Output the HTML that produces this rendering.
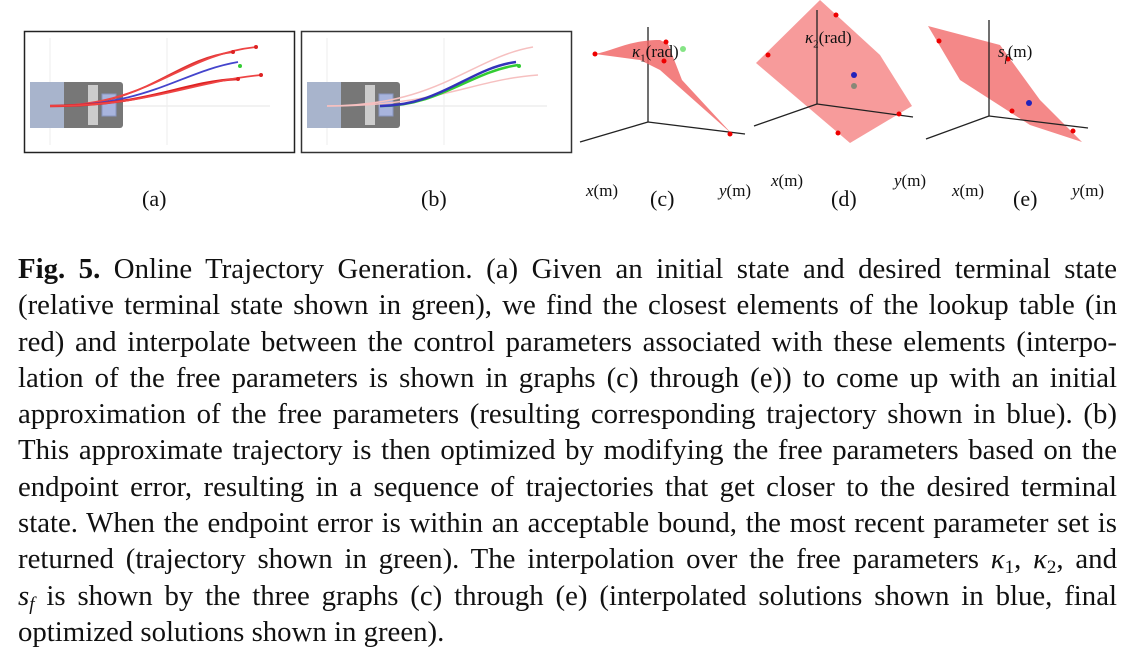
<!DOCTYPE html>
<html><head><meta charset="utf-8">
<style>
html,body{margin:0;padding:0;background:#fff;}
body{width:1131px;height:657px;position:relative;overflow:hidden;font-family:"Liberation Serif",serif;}
svg{position:absolute;left:0;top:0;}
.cap{position:absolute;left:18px;top:251px;width:1099px;font-size:28.8px;line-height:36.3px;color:#111;}
.cap div{text-align:justify;text-align-last:justify;white-space:nowrap;height:36.3px;}
.cap div.last{text-align-last:left;}
.s{font-size:19px;position:relative;top:5px;line-height:0;}
.lbl{position:absolute;font-size:19px;color:#111;}
.lbl sub{font-size:11px;line-height:0;}
.it{font-style:italic;}
</style></head><body>
<svg width="1131" height="240" viewBox="0 0 1131 240">
<defs>
<g id="car">
<rect x="30" y="82" width="93" height="46" fill="#777" rx="3"/>
<rect x="30" y="82" width="34" height="46" fill="#a8b4cc"/>
<rect x="88" y="85" width="10" height="40" fill="#ccc"/>
<rect x="102" y="94" width="14" height="22" fill="#a8b4dd" stroke="#8896c0"/>
<line x1="123" y1="106" x2="270" y2="106" stroke="#e6e6e6"/>
<line x1="50" y1="38" x2="50" y2="82" stroke="#eee"/>
<line x1="50" y1="128" x2="50" y2="145" stroke="#eee"/>
<line x1="167" y1="38" x2="167" y2="145" stroke="#eee"/>
</g>
</defs>
<rect x="24.5" y="31.5" width="270" height="121" fill="#fff" stroke="#222" stroke-width="1.5"/>
<use href="#car"/>
<g fill="none" stroke-width="1.8">
<path d="M50 106 C150 106 170 60 233 52" stroke="#d33"/>
<path d="M50 106 C150 106 180 55 256 47" stroke="#e44"/>
<path d="M50 106 C150 106 180 72 238 62" stroke="#44c"/>
<path d="M50 106 C150 106 180 82 238 79" stroke="#d22" stroke-width="2.5"/>
<path d="M50 106 C150 106 190 82 261 75" stroke="#e44"/>
</g>
<g fill="#d22"><circle cx="233" cy="52" r="2"/><circle cx="256" cy="47" r="2"/><circle cx="238" cy="79" r="2"/><circle cx="261" cy="75" r="2"/></g>
<circle cx="240" cy="66" r="2" fill="#3c3"/>

<rect x="301.5" y="31.5" width="270" height="121" fill="#fff" stroke="#333" stroke-width="1.5"/>
<use href="#car" transform="translate(277,0)"/>
<g fill="none">
<path d="M327 106 C440 106 470 58 533 47" stroke="#f6c0c0" stroke-width="1.5"/>
<path d="M327 106 C440 106 470 80 538 75" stroke="#f6c0c0" stroke-width="1.5"/>
<path d="M380 106 C440 106 470 72 518 65" stroke="#3c3" stroke-width="2.5"/>
<path d="M380 106 C440 106 470 68 516 62" stroke="#33b" stroke-width="2.5"/>
</g>
<circle cx="519" cy="66" r="2" fill="#3c3"/>

<!-- (c) -->
<g stroke="#222" stroke-width="1.3" fill="none">
<line x1="648" y1="27" x2="648" y2="122"/><line x1="648" y1="122" x2="580" y2="142"/><line x1="648" y1="122" x2="745" y2="134"/>
</g>
<path d="M595 54 C615 50 630 40 660 40 L668 44 L682 80 L732 134 L705 110 L660 70 L640 60 Z" fill="#f06060" opacity="0.8"/>
<g fill="#e00"><circle cx="595" cy="54" r="2.5"/><circle cx="666" cy="42" r="2.5"/><circle cx="664" cy="61" r="2.5"/><circle cx="730" cy="134" r="2.5"/></g>
<circle cx="683" cy="49" r="3" fill="#6d6" opacity="0.8"/>
<!-- (d) -->
<path d="M756 63 L820 0 L880 55 L912 106 L850 143 Z" fill="#f47a7a" opacity="0.75"/>
<g stroke="#222" stroke-width="1.3" fill="none">
<line x1="817" y1="10" x2="817" y2="104"/><line x1="817" y1="104" x2="754" y2="126"/><line x1="817" y1="104" x2="913" y2="117"/>
</g>
<g fill="#e00"><circle cx="768" cy="55" r="2.5"/><circle cx="836" cy="15" r="2.5"/><circle cx="899" cy="114" r="2.5"/><circle cx="838" cy="133" r="2.5"/></g>
<circle cx="854" cy="75" r="3" fill="#22b"/><circle cx="854" cy="86" r="3" fill="#887"/>
<!-- (e) -->
<path d="M928 26 L1000 45 L1040 100 L1082 142 L1030 125 L960 80 Z" fill="#f06060" opacity="0.75"/>
<g stroke="#222" stroke-width="1.3" fill="none">
<line x1="989" y1="20" x2="989" y2="116"/><line x1="989" y1="116" x2="926" y2="139"/><line x1="989" y1="116" x2="1088" y2="128"/>
</g>
<g fill="#e00"><circle cx="939" cy="41" r="2.5"/><circle cx="1008" cy="59" r="2.5"/><circle cx="1012" cy="111" r="2.5"/><circle cx="1073" cy="131" r="2.5"/></g>
<circle cx="1029" cy="103" r="3" fill="#22b"/>
</svg>

<div class="lbl" style="left:632px;top:42px;font-size:17px"><span class="it">κ</span><sub>1</sub>(rad)</div>
<div class="lbl" style="left:805px;top:28px;font-size:17px"><span class="it">κ</span><sub>2</sub>(rad)</div>
<div class="lbl" style="left:998px;top:42px;font-size:17px"><span class="it">s<sub>f</sub></span>(m)</div>

<div class="lbl" style="left:142px;top:186px;font-size:22px">(a)</div>
<div class="lbl" style="left:421px;top:186px;font-size:22px">(b)</div>
<div class="lbl" style="left:586px;top:181px;font-size:17px"><span class="it">x</span>(m)</div>
<div class="lbl" style="left:650px;top:186px;font-size:22px">(c)</div>
<div class="lbl" style="left:719px;top:181px;font-size:17px"><span class="it">y</span>(m)</div>
<div class="lbl" style="left:771px;top:171px;font-size:17px"><span class="it">x</span>(m)</div>
<div class="lbl" style="left:831px;top:186px;font-size:22px">(d)</div>
<div class="lbl" style="left:894px;top:171px;font-size:17px"><span class="it">y</span>(m)</div>
<div class="lbl" style="left:952px;top:181px;font-size:17px"><span class="it">x</span>(m)</div>
<div class="lbl" style="left:1013px;top:186px;font-size:22px">(e)</div>
<div class="lbl" style="left:1072px;top:181px;font-size:17px"><span class="it">y</span>(m)</div>

<div class="cap">
<div><b>Fig. 5.</b> Online Trajectory Generation. (a) Given an initial state and desired terminal state</div>
<div>(relative terminal state shown in green), we find the closest elements of the lookup table (in</div>
<div>red) and interpolate between the control parameters associated with these elements (interpo-</div>
<div>lation of the free parameters is shown in graphs (c) through (e)) to come up with an initial</div>
<div>approximation of the free parameters (resulting corresponding trajectory shown in blue). (b)</div>
<div>This approximate trajectory is then optimized by modifying the free parameters based on the</div>
<div>endpoint error, resulting in a sequence of trajectories that get closer to the desired terminal</div>
<div>state. When the endpoint error is within an acceptable bound, the most recent parameter set is</div>
<div>returned (trajectory shown in green). The interpolation over the free parameters <i>κ</i><span class="s">1</span>, <i>κ</i><span class="s">2</span>, and</div>
<div><i>s<span class="s">f</span></i> is shown by the three graphs (c) through (e) (interpolated solutions shown in blue, final</div>
<div class="last">optimized solutions shown in green).</div>
</div>
</body></html>
